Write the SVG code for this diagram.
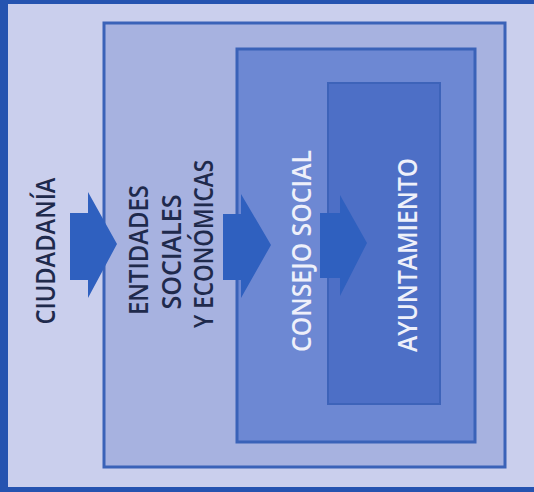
<svg xmlns="http://www.w3.org/2000/svg" width="534" height="492" viewBox="0 0 534 492">
<style>
.box{stroke:#3a62b8;stroke-width:3}
.arrow{fill:#2f60bf}
.lbl{font-family:"Open Sans","Liberation Sans",sans-serif;font-weight:600;font-size:27px;text-anchor:middle}
.dark{fill:#1f2a4c}
.light{fill:#eef0fa}
</style>
<rect x="0" y="0" width="534" height="492" fill="#2553b0"/>
<rect x="8" y="4" width="526" height="483" fill="#cacfed"/>
<g id="entidades">
<rect class="box" x="104" y="23" width="401" height="444" fill="#a7b2e0"/>
</g>
<g id="consejo">
<rect class="box" x="237" y="49" width="238" height="393" fill="#6d88d3"/>
</g>
<g id="ayuntamiento">
<rect x="328" y="83" width="112" height="321" fill="#4d6fc6" stroke="#3d63b9" stroke-width="2"/>
</g>
<g id="connectors">
<polygon class="arrow" points="70,213 88,213 88,192 117,244 88,298 88,280 70,280"/>
<polygon class="arrow" points="223,214 241,214 241,194 271,245 241,298 241,280 223,280"/>
<polygon class="arrow" points="320,213 340,213 340,195 367,243 340,296 340,278 320,278" fill="#3561bd"/>
</g>
<g id="labels">
<text class="lbl dark" transform="translate(55,251) rotate(-90)" textLength="147" lengthAdjust="spacingAndGlyphs">CIUDADANÍA</text>
<text class="lbl dark" transform="translate(148,250) rotate(-90)" textLength="130" lengthAdjust="spacingAndGlyphs">ENTIDADES</text>
<text class="lbl dark" transform="translate(181,252) rotate(-90)" textLength="115" lengthAdjust="spacingAndGlyphs">SOCIALES</text>
<text class="lbl dark" transform="translate(213,244) rotate(-90)" textLength="168" lengthAdjust="spacingAndGlyphs">Y ECONÓMICAS</text>
<text class="lbl light" transform="translate(311,251) rotate(-90)" textLength="202" lengthAdjust="spacingAndGlyphs">CONSEJO SOCIAL</text>
<text class="lbl light" transform="translate(417,255) rotate(-90)" textLength="194" lengthAdjust="spacingAndGlyphs">AYUNTAMIENTO</text>
</g>
</svg>
